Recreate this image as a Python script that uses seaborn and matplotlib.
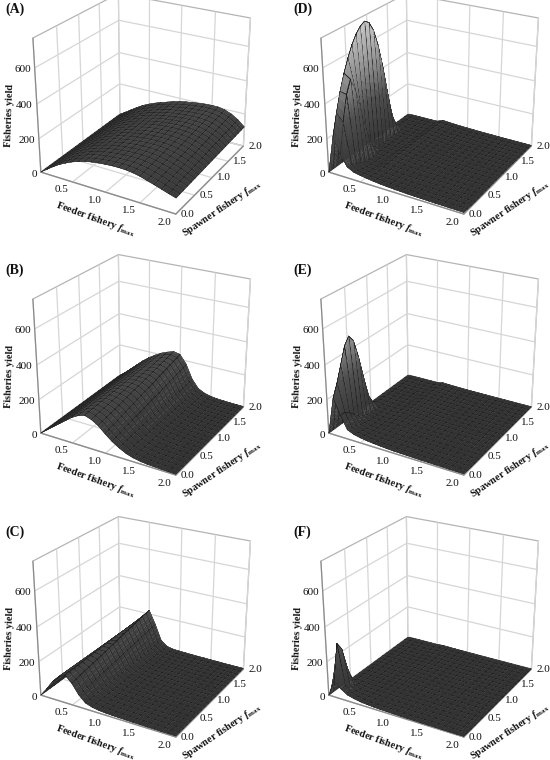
import numpy as np
import matplotlib
matplotlib.use("Agg")
import matplotlib.pyplot as plt
import seaborn as sns
from mpl_toolkits.mplot3d import Axes3D, proj3d
from mpl_toolkits.mplot3d.art3d import Poly3DCollection

sns.set_theme(style="white")
plt.rcParams['font.family'] = ['Liberation Serif', 'DejaVu Serif']
plt.rcParams['mathtext.fontset'] = 'custom'
plt.rcParams['mathtext.rm'] = 'Liberation Serif:bold'
plt.rcParams['mathtext.it'] = 'Liberation Serif:bold:italic'

feeder_f = np.round(np.arange(21) * 0.1, 1)
spawner_f = np.round(np.arange(21) * 0.1, 1)
feeder_ticks = [0.5, 1.0, 1.5, 2.0]
spawner_ticks = [0.0, 0.5, 1.0, 1.5, 2.0]
yield_ticks = [0, 200, 400, 600]

# Panels A-C: yield along the feeder axis at spawner 0 and spawner 2, and the share of the second
A_front = [0, 28, 55, 80, 100, 118, 132, 144, 152, 158, 162, 165, 166, 165, 160, 152, 140, 128, 115, 102, 90]
A_back = [0, 24, 50, 75, 98, 116, 132, 146, 158, 170, 180, 188, 194, 199, 203, 205, 204, 196, 180, 155, 120]
A_mix = [0, .05, .1, .15, .2, .25, .3, .35, .4, .45, .5, .55, .6, .65, .7, .75, .8, .85, .9, .95, 1]
B_front = [0, 30, 60, 90, 120, 150, 172, 185, 172, 148, 112, 80, 55, 35, 22, 15, 10, 8, 6, 5, 4]
B_back = [0, 30, 65, 100, 135, 165, 190, 212, 228, 240, 232, 180, 95, 45, 25, 15, 10, 8, 6, 5, 4]
B_mix = [0, .05, .1, .15, .2, .25, .3, .35, .4, .45, .5, .55, .6, .65, .7, .75, .8, .85, .9, .95, 1]
C_front = [0, 50, 105, 145, 165, 128, 72, 35, 22, 15, 12, 10, 9, 8, 7, 7, 6, 6, 5, 5, 5]
C_back = [0, 42, 90, 138, 180, 225, 145, 50, 20, 12, 10, 9, 8, 7, 7, 6, 6, 5, 5, 5, 5]
C_mix = [0, .05, .1, .15, .2, .25, .3, .35, .4, .45, .5, .55, .6, .65, .7, .75, .8, .85, .9, .95, 1]

# Panels D-F: yield along the spawner axis for the first feeder steps, then a low tail
D_rows = [
    [0] * 21,
    [225, 345, 450, 535, 605, 665, 710, 740, 755, 735, 680, 580, 440, 270, 110, 30, 12, 8, 5, 4, 3],
    [130, 300, 440, 510, 430, 300, 170, 70, 25, 15, 10, 9, 8, 7, 6, 5, 4, 4, 3, 3, 3],
    [65, 60, 50, 35, 22, 15, 12, 10, 10, 10, 9, 8, 7, 6, 5, 5, 4, 4, 3, 3, 3],
    [45, 36, 26, 18, 14, 12, 10, 10, 10, 10, 9, 8, 7, 6, 6, 5, 5, 4, 4, 3, 3],
    [38, 30, 22, 16, 13, 12, 11, 10, 10, 10, 9, 8, 8, 7, 6, 6, 5, 5, 4, 4, 4],
]
D_tail = [32, 27, 23, 20, 18, 16, 14, 13, 12, 11, 10, 10, 9, 9, 8]
D_fade = [1, .8, .6, .55, .6, .65, .7, .75, .8, .8, .8, .8, .8, .8, .8, .75, .7, .7, .65, .65, .6]
E_rows = [
    [0] * 21,
    [220, 290, 380, 470, 510, 470, 360, 220, 90, 30, 15, 10, 8, 7, 6, 5, 4, 3, 3, 3, 2],
    [130, 130, 110, 80, 50, 30, 20, 12, 9, 8, 8, 7, 6, 5, 5, 4, 4, 3, 3, 3, 2],
    [55, 50, 40, 28, 18, 12, 9, 8, 7, 7, 6, 6, 5, 5, 4, 4, 3, 3, 3, 3, 2],
    [38, 30, 22, 15, 11, 9, 8, 7, 7, 6, 6, 5, 5, 4, 4, 4, 3, 3, 3, 2, 2],
    [30, 24, 17, 12, 9, 8, 7, 7, 6, 6, 6, 5, 5, 4, 4, 4, 3, 3, 3, 3, 2],
]
E_tail = [24, 20, 17, 14, 12, 11, 10, 9, 8, 8, 7, 7, 6, 6, 6]
E_fade = [1, .7, .5, .45, .45, .5, .5, .55, .55, .55, .55, .55, .55, .5, .5, .5, .5, .45, .45, .45, .4]
F_rows = [
    [0] * 21,
    [100, 300, 250, 120, 25, 10, 7, 6, 5, 5, 4, 4, 4, 3, 3, 3, 2, 2, 2, 2, 2],
    [60, 60, 45, 25, 12, 8, 6, 5, 5, 4, 4, 4, 3, 3, 3, 3, 2, 2, 2, 2, 2],
    [35, 30, 20, 12, 8, 6, 5, 4, 4, 4, 3, 3, 3, 3, 3, 2, 2, 2, 2, 2, 2],
    [25, 18, 12, 8, 6, 5, 4, 4, 4, 3, 3, 3, 3, 3, 2, 2, 2, 2, 2, 2, 2],
    [18, 13, 9, 7, 5, 4, 4, 4, 3, 3, 3, 3, 3, 3, 2, 2, 2, 2, 2, 2, 2],
]
F_tail = [14, 11, 9, 8, 7, 6, 5, 5, 4, 4, 4, 3, 3, 3, 3]
F_fade = [1, .6, .45, .4, .4, .4, .4, .4, .4, .4, .4, .4, .4, .4, .4, .4, .4, .4, .4, .4, .4]


def blended(front, back, mix):
    f, b, m = np.array(front), np.array(back), np.array(mix)
    return np.outer(f, 1 - m) + np.outer(b, m)


def ridged(rows, tail, fade):
    return np.vstack([np.array(rows, float), np.outer(tail, fade)])


panels = [
    ("(A)", blended(A_front, A_back, A_mix), 41, 172),
    ("(B)", blended(B_front, B_back, B_mix), 41, 433),
    ("(C)", blended(C_front, C_back, C_mix), 41, 695),
    ("(D)", ridged(D_rows, D_tail, D_fade), 329, 172),
    ("(E)", ridged(E_rows, E_tail, E_fade), 329, 433),
    ("(F)", ridged(F_rows, F_tail, F_fade), 329, 695),
]

W, H = 550, 760
cmap = sns.blend_palette(["#333333", "#404040", "#505050", "#808080", "#a8a8a8", "#c8c8c8"], as_cmap=True)
MESH = np.array(matplotlib.colors.to_rgba("#1e1e1e"))
STRIP = 0.06
fig = plt.figure(figsize=(W / 100, H / 100), dpi=100, facecolor="white")
AX = 330  # axes size in px
CX, CY = 99.5, -72  # axes centre relative to origin corner


def shaded_mesh(Z):
    """Faces of each grid cell, shaded by height, with a thin dark strip along the cell borders."""
    verts, cols = [], []
    for i in range(len(feeder_f) - 1):
        for j in range(len(spawner_f) - 1):
            z00, z01, z10, z11 = Z[i, j], Z[i, j + 1], Z[i + 1, j], Z[i + 1, j + 1]
            du = max(abs(z10 - z00), abs(z11 - z01), 1.0)
            dv = max(abs(z01 - z00), abs(z11 - z10), 1.0)
            su = STRIP * min(1.0, 30.0 / du)
            sv = STRIP * min(1.0, 30.0 / dv)
            t_f = [0] + list(np.linspace(su, 1 - su, 2 + min(int(du / 30), 16))) + [1]
            t_s = [0] + list(np.linspace(sv, 1 - sv, 2 + min(int(dv / 60), 6))) + [1]

            def pt(u, v):
                z = (1 - u) * ((1 - v) * z00 + v * z01) + u * ((1 - v) * z10 + v * z11)
                return (feeder_f[i] + 0.1 * u, spawner_f[j] + 0.1 * v, z)

            for a in range(len(t_f) - 1):
                for b in range(len(t_s) - 1):
                    q = [pt(t_f[a], t_s[b]), pt(t_f[a + 1], t_s[b]), pt(t_f[a + 1], t_s[b + 1]), pt(t_f[a], t_s[b + 1])]
                    edge = a in (0, len(t_f) - 2) or b in (0, len(t_s) - 2)
                    verts.append(q)
                    cols.append(MESH if edge else cmap(np.mean([p[2] for p in q]) / 750))
    return verts, np.array(cols)


for tag, Z, ox, oy in panels:
    cx, cy = ox + CX, oy + CY
    ax = fig.add_axes([(cx - AX / 2) / W, 1 - (cy + AX / 2) / H, AX / W, AX / H], projection="3d")
    ax.patch.set_alpha(0)
    ax.view_init(elev=25, azim=-60)
    ax.set_proj_type("persp", focal_length=0.48)
    ax.set_box_aspect((1.04, 1.03, 0.975), zoom=0.766)
    verts, cols = shaded_mesh(Z)
    ax.add_collection3d(Poly3DCollection(verts, facecolors=cols, edgecolors=cols, linewidths=0.2))
    ax.set_xlim(0, 2)
    ax.set_ylim(0, 2)
    ax.set_zlim(0, 760)
    ax.set_xticks(feeder_ticks, [""] * len(feeder_ticks))
    ax.set_yticks(spawner_ticks, [""] * len(spawner_ticks))
    ax.set_zticks(yield_ticks, [""] * len(yield_ticks))
    for a in (ax.xaxis, ax.yaxis, ax.zaxis):
        a.pane.set_facecolor("white")
        a.pane.set_edgecolor("#6a6a6a")
        a.pane.set_linewidth(0.9)
        a.line.set_color("#8a8a8a")
        a.line.set_linewidth(0.9)
        a._axinfo["grid"]["color"] = "#d6d6d6"
        a._axinfo["grid"]["linewidth"] = 0.9
        a._axinfo["tick"]["inward_factor"] = 0
        a._axinfo["tick"]["outward_factor"] = 0
    ax.zaxis.set_ticks_position("lower")
    ax.grid(True)

    M = ax.get_proj()

    def tick_text(x, y, z, label, dx, dy, ha):
        px, py, _ = proj3d.proj_transform(x, y, z, M)
        ax.annotate(label, (px, py), xytext=(dx, dy), textcoords="offset pixels", ha=ha, va="center",
                    fontsize=8, color="#111111", annotation_clip=False)

    for v in feeder_ticks:
        tick_text(v, 0, 0, f"{v:.1f}", -11, -8, "center")
    for v in spawner_ticks:
        tick_text(2, v, 0, f"{v:.1f}", 12, 0, "center")
    for v in yield_ticks:
        tick_text(0, 0, v, str(v), -4, -2, "right")

    fig.text((ox - 36) / W, 1 - (oy - 163) / H, tag, fontsize=10, fontweight="bold", va="center", ha="left", color="#111111")
    fig.text((ox + 55) / W, 1 - (oy + 47) / H, r"Feeder fishery $\mathit{f}_{\mathrm{max}}$", fontsize=7.4,
             fontweight="bold", rotation=-20, ha="center", va="center", rotation_mode="anchor", color="#111111")
    fig.text((ox + 181) / W, 1 - (oy + 37) / H, r"Spawner fishery $\mathit{f}_{\mathrm{max}}$", fontsize=7.4,
             fontweight="bold", rotation=34, ha="center", va="center", rotation_mode="anchor", color="#111111")
    fig.text((ox - 31) / W, 1 - (oy - 57) / H, "Fisheries yield", fontsize=7.4, fontweight="bold",
             rotation=88, ha="center", va="center", rotation_mode="anchor", color="#111111")

fig.savefig("out.png", dpi=100, facecolor="white")
